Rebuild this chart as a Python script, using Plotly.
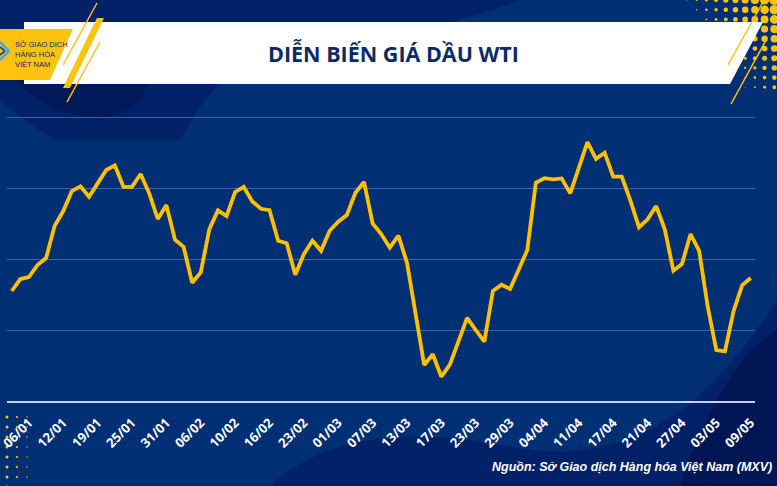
import plotly.graph_objects as go

# WTI closing prices (USD/barrel), trading days 04/01 -> 09/05
prices = [
    72.75, 73.59, 73.73, 74.58, 75.07, 77.35, 78.38, 79.79, 80.12, 79.39,
    80.33, 81.27, 81.60, 80.09, 80.09, 80.99, 79.63, 77.82, 78.80, 76.36,
    75.87, 73.33, 74.06, 77.11, 78.43, 78.03, 79.72, 80.09, 79.06, 78.54,
    78.45, 76.29, 76.11, 73.89, 75.35, 76.29, 75.58, 76.99, 77.63, 78.10,
    79.67, 80.44, 77.51, 76.76, 75.81, 76.65, 74.74, 71.18, 67.54, 68.29,
    66.71, 67.58, 69.30, 70.85, 70.00, 69.18, 72.75, 73.19, 72.89, 74.32,
    75.63, 80.37, 80.70, 80.61, 80.68, 79.63, 81.46, 83.24, 82.06, 82.49,
    80.80, 80.80, 79.11, 77.23, 77.80, 78.73, 77.09, 74.18, 74.65, 76.76,
    75.58, 71.64, 68.59, 68.50, 71.32, 73.15, 73.66,
]

tick_labels = [
    "06/01", "12/01", "19/01", "25/01", "31/01", "06/02", "10/02", "16/02",
    "23/02", "01/03", "07/03", "13/03", "17/03", "23/03", "29/03", "04/04",
    "11/04", "17/04", "21/04", "27/04", "03/05", "09/05",
]

title_text = "DIỄN BIẾN GIÁ DẦU WTI"
source_text = "Nguồn: Sở Giao dịch Hàng hóa Việt Nam (MXV)"
logo_text = "SỞ GIAO DỊCH<br>HÀNG HÓA<br>VIỆT NAM"

BG = "#012f74"
DARK = "rgba(0,22,92,0.55)"
YELLOW = "#ffc20e"

# plot area in pixels, used to place the decoration in paper coords
PX0, PX1, PY0, PY1 = 7, 755, 110, 401


def X(x):
    return (x - PX0) / (PX1 - PX0)


def Y(y):
    return (PY1 - y) / (PY1 - PY0)


def poly(points, fill, line=None, width=0):
    d = "M " + " L ".join(f"{X(x):.4f},{Y(y):.4f}" for x, y in points) + " Z"
    return dict(type="path", path=d, xref="paper", yref="paper",
                fillcolor=fill, line=dict(color=line or fill, width=width),
                layer="below")


def curve(d_points, fill):
    # d_points: list of (cmd, [(x, y), ...]) in pixels
    parts = []
    for cmd, pts in d_points:
        parts.append(cmd + " " + " ".join(f"{X(x):.4f},{Y(y):.4f}" for x, y in pts))
    return dict(type="path", path=" ".join(parts) + " Z", xref="paper",
                yref="paper", fillcolor=fill, line=dict(width=0), layer="below")


def seg(x0, y0, x1, y1, color, width):
    return dict(type="line", xref="paper", yref="paper",
                x0=X(x0), y0=Y(y0), x1=X(x1), y1=Y(y1),
                line=dict(color=color, width=width), layer="below")


def dot(x, y, r, color):
    return dict(type="circle", xref="paper", yref="paper",
                x0=X(x - r), x1=X(x + r), y0=Y(y + r), y1=Y(y - r),
                fillcolor=color, line=dict(width=0), layer="below")


shapes = []

# darker swirls in the background
shapes.append(curve([
    ("M", [(0, 0)]), ("L", [(520, 0)]),
    ("C", [(420, 40), (280, 50), (225, 80)]),
    ("C", [(200, 100), (190, 125), (180, 140)]),
    ("L", [(55, 140)]),
    ("C", [(30, 125), (10, 110), (0, 100)]),
], DARK))
shapes.append(curve([
    ("M", [(15, 80)]),
    ("C", [(40, 105), (70, 117), (100, 117)]),
    ("C", [(125, 117), (145, 100), (148, 80)]),
], "rgba(0,16,70,0.45)"))
shapes.append(curve([
    ("M", [(270, 486)]),
    ("C", [(330, 430), (420, 430), (500, 445)]),
    ("C", [(620, 470), (700, 420), (777, 300)]),
    ("L", [(777, 486)]),
], DARK))
shapes.append(curve([
    ("M", [(680, 486)]),
    ("C", [(700, 420), (740, 350), (777, 330)]),
    ("L", [(777, 486)]),
], "rgba(0,14,70,0.55)"))

# yellow dot grid, top right
for r in range(10):
    for c in range(10):
        rad = 0.6 + 0.5 * c - 0.35 * r
        if rad >= 0.45:
            shapes.append(dot(687 + 9.7 * c, 0 + 9.7 * r, rad, YELLOW))

# yellow dot grid, bottom left
for r in range(8):
    for c in range(4):
        rad = 1.5 - 0.4 * c
        if rad > 0.4:
            shapes.append(dot(7 + 10 * c, 417 + 10 * r, rad, YELLOW))

# header band and logo block
shapes.append(poly([(24, 22), (763, 22), (730, 84), (24, 84)], "white"))
shapes.append(poly([(0, 29), (73, 29), (50, 80), (0, 80)], YELLOW))
shapes.append(seg(0, 42, 9, 51, "#3fa9f5", 2.5))
shapes.append(seg(9, 51, 0, 60, "#3fa9f5", 2.5))
shapes.append(seg(0, 47, 5, 51, "#1c4da1", 2))
shapes.append(seg(5, 51, 0, 55, "#1c4da1", 2))

# yellow diagonal strokes
shapes.append(seg(97, 3, 63, 65, YELLOW, 1.5))
shapes.append(poly([(97, 18), (104, 18), (70, 88), (63, 88)], YELLOW))
shapes.append(seg(100, 42, 67, 102, YELLOW, 1.5))
shapes.append(seg(763, 2, 728, 65, YELLOW, 1.5))
shapes.append(seg(765, 42, 731, 104, YELLOW, 1.5))

fig = go.Figure()

fig.add_trace(
    go.Scatter(
        x=list(range(len(prices))),
        y=prices,
        mode="lines",
        line=dict(color="#ffc000", width=3.8),
        hoverinfo="skip",
        showlegend=False,
    )
)

fig.update_layout(
    width=777,
    height=486,
    margin=dict(l=PX0, r=777 - PX1, t=PY0, b=486 - PY1, pad=0,
                autoexpand=False),
    paper_bgcolor=BG,
    plot_bgcolor="rgba(0,0,0,0)",
    shapes=shapes,
    showlegend=False,
    xaxis=dict(
        range=[-0.55, 86.5],
        tickmode="array",
        tickvals=list(range(2, len(prices), 4)),
        ticktext=tick_labels,
        tickangle=-45,
        tickfont=dict(family="Open Sans", size=13, color="white", weight="bold"),
        ticklabeloverflow="allow",
        ticklabelstandoff=7,
        automargin=False,
        showgrid=False,
        zeroline=False,
        showline=True,
        linecolor="#c9d2e8",
        linewidth=2,
        ticks="",
        fixedrange=True,
    ),
    yaxis=dict(
        range=[65, 85.5],
        dtick=5,
        tick0=65,
        showticklabels=False,
        showgrid=True,
        gridcolor="rgba(110,145,210,0.55)",
        gridwidth=1,
        zeroline=False,
        automargin=False,
        fixedrange=True,
    ),
    annotations=[
        dict(
            text=f"<b>{title_text}</b>",
            xref="paper", yref="paper",
            x=X(394), y=Y(53),
            xanchor="center", yanchor="middle",
            showarrow=False,
            font=dict(family="Open Sans", size=21.5, color="#0d2a68"),
        ),
        dict(
            text=logo_text,
            xref="paper", yref="paper",
            x=X(13), y=Y(54),
            xanchor="left", yanchor="middle",
            align="left",
            showarrow=False,
            font=dict(family="Liberation Sans", size=7.5, color="#0d2a68"),
        ),
        dict(
            text=f"<b><i>{source_text}</i></b>",
            xref="paper", yref="paper",
            x=X(774), y=Y(467),
            xanchor="right", yanchor="middle",
            showarrow=False,
            font=dict(family="Liberation Sans", size=12.5, color="white"),
        ),
    ],
)

fig.write_html(
    "out.html",
    config={"displayModeBar": False},
    post_script="document.body.style.margin='0';",
)
